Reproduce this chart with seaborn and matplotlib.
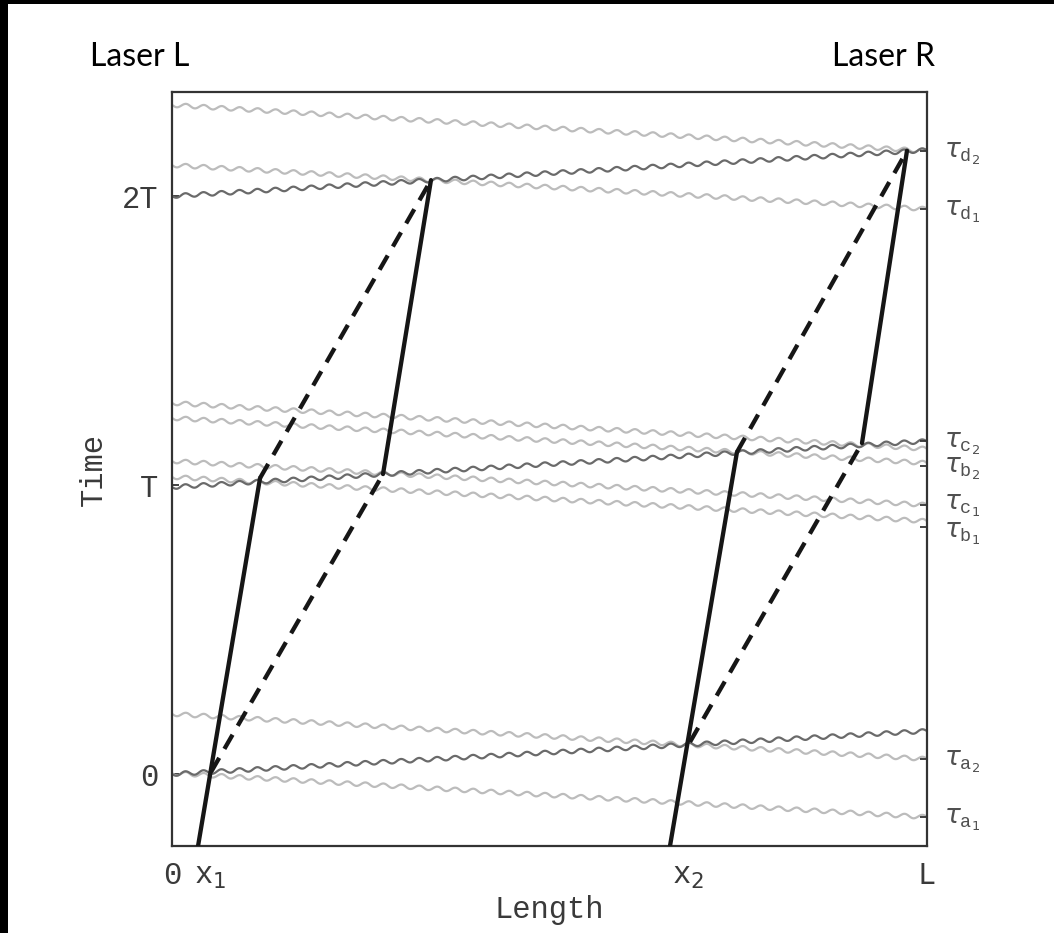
import matplotlib
matplotlib.use("Agg")
import matplotlib.pyplot as plt
from matplotlib.patches import Rectangle
import seaborn as sns

# pulsos del laser L: sale de x=0 en t_salida, llega a x=L en t_llegada
pulsoL_salida = [0.0, 0.993, 2.0]
pulsoL_llegada = [0.149, 1.152, 2.159]

# pulsos del laser R: sale de x=L en t_salida, llega a x=0 en t_llegada
pulsoR_salida = [-0.149, 0.052, 0.875, 0.931, 1.076, 1.125, 1.955, 2.156]
pulsoR_llegada = [0.003, 0.208, 1.028, 1.083, 1.232, 1.284, 2.107, 2.315]

# trayectorias (x, t): tramos solidos y punteados
solidaA_x, solidaA_t = [0.0345, 0.1166], [-0.249, 1.024]
punteadaA_x, punteadaA_t = [0.1166, 0.343], [1.024, 2.055]
punteadaB_x, punteadaB_t = [0.0517, 0.2795], [0.007, 1.038]
solidaB_x, solidaB_t = [0.2795, 0.343], [1.038, 2.055]
solidaC_x, solidaC_t = [0.6596, 0.7483], [-0.249, 1.114]
punteadaC_x, punteadaC_t = [0.7483, 0.9735], [1.114, 2.157]
punteadaD_x, punteadaD_t = [0.6861, 0.9139], [0.111, 1.145]
solidaD_x, solidaD_t = [0.9139, 0.9735], [1.145, 2.157]

ticks_x = [0.0, 0.051, 0.683, 1.0]
etiquetas_x = ['0', r'$\mathtt{x}_1$', r'$\mathtt{x}_2$', 'L']
ticks_t = [0.0, 1.0, 2.0]
etiquetas_t = ['0', 'T', '2T']
ticks_tau = [-0.149, 0.052, 0.855, 0.931, 1.066, 1.152, 1.955, 2.156]
etiquetas_tau = [r'$\tau_{\mathtt{a}_1}$', r'$\tau_{\mathtt{a}_2}$',
                 r'$\tau_{\mathtt{b}_1}$', r'$\tau_{\mathtt{c}_1}$',
                 r'$\tau_{\mathtt{b}_2}$', r'$\tau_{\mathtt{c}_2}$',
                 r'$\tau_{\mathtt{d}_1}$', r'$\tau_{\mathtt{d}_2}$']

sns.set_theme(style='white')
plt.rcParams['font.family'] = ['Liberation Mono', 'DejaVu Sans']
matplotlib.rcParams['mathtext.fontset'] = 'custom'
matplotlib.rcParams['mathtext.tt'] = 'Liberation Mono'
matplotlib.rcParams['mathtext.rm'] = 'DejaVu Sans'
matplotlib.rcParams['mathtext.it'] = 'DejaVu Sans:italic'

gris_texto = '#3a3a3a'
gris_claro = '#bcbcbc'
gris_oscuro = '#6a6a6a'

fig = plt.figure(figsize=(10.54, 9.33), dpi=100)
ax = fig.add_axes([172 / 1054, 1 - 846 / 933, 755 / 1054, 754 / 933])


def onda(x, t, color):
    sns.lineplot(x=x, y=t, color=color, lw=1.6, ax=ax, sort=False,
                 estimator=None, legend=False)
    linea = ax.lines[-1]
    linea.set_sketch_params(2.0, 18.0, 1.0)
    linea.set_solid_capstyle('butt')


for s, l in zip(pulsoR_salida, pulsoR_llegada):
    onda([1.0, 0.0], [s, l], gris_claro)
for s, l in zip(pulsoL_salida, pulsoL_llegada):
    onda([0.0, 1.0], [s, l], gris_oscuro)


def tramo(x, t, punteado=False):
    sns.lineplot(x=x, y=t, color='#161616', lw=3.1, ax=ax, sort=False,
                 estimator=None, legend=False)
    linea = ax.lines[-1]
    linea.set_zorder(5)
    if punteado:
        linea.set_dashes((3.8, 2.4))
        linea.set_dash_capstyle('butt')


tramo(solidaA_x, solidaA_t)
tramo(punteadaA_x, punteadaA_t, True)
tramo(punteadaB_x, punteadaB_t, True)
tramo(solidaB_x, solidaB_t)
tramo(solidaC_x, solidaC_t)
tramo(punteadaC_x, punteadaC_t, True)
tramo(punteadaD_x, punteadaD_t, True)
tramo(solidaD_x, solidaD_t)

ax.set_xlim(0, 1)
ax.set_ylim(-0.249, 2.36)
ax.set_xticks(ticks_x)
ax.set_xticklabels(etiquetas_x)
ax.set_yticks(ticks_t)
ax.set_yticklabels(etiquetas_t)
ax.tick_params(axis='both', direction='in', length=5, width=1.3,
               color='#333333', labelsize=22, labelcolor=gris_texto)
ax.tick_params(axis='x', pad=11)
ax.tick_params(axis='y', pad=10)
ax.set_xlabel('Length', fontsize=22, color=gris_texto, labelpad=3)
ax.set_ylabel('Time', fontsize=22, color=gris_texto, labelpad=9)

for spine in ax.spines.values():
    spine.set_color('#333333')
    spine.set_linewidth(1.6)

# marcas de tau a la derecha; las etiquetas van con el tau centrado en la marca
ax2 = ax.twinx()
ax2.set_ylim(ax.get_ylim())
ax2.set_yticks(ticks_tau)
ax2.tick_params(axis='y', direction='in', length=5, width=1.3,
                color='#333333', labelright=False)
for spine in ax2.spines.values():
    spine.set_visible(False)
# las etiquetas muy juntas se separan un poco
ajuste = {r'$\tau_{\mathtt{b}_1}$': -3.0, r'$\tau_{\mathtt{c}_1}$': 1.0}
for t, etiqueta in zip(ticks_tau, etiquetas_tau):
    dy = -4.5 + ajuste.get(etiqueta, 0.0)
    ax2.annotate(etiqueta, xy=(1.0, t), xycoords=ax2.get_yaxis_transform(),
                 xytext=(12, dy), textcoords='offset points',
                 fontsize=19, color='#505050', va='baseline', ha='left',
                 annotation_clip=False)

fig.text(90 / 1054, 1 - 66 / 933, 'Laser L', fontsize=23, family='Lato',
         color='black', va='baseline', ha='left')
fig.text(935 / 1054, 1 - 66 / 933, 'Laser R', fontsize=23, family='Lato',
         color='black', va='baseline', ha='right')

# borde negro de la captura original
fig.add_artist(Rectangle((0, 1 - 4 / 933), 1, 4 / 933,
                         transform=fig.transFigure, color='black', lw=0))
fig.add_artist(Rectangle((0, 0), 8 / 1054, 1,
                         transform=fig.transFigure, color='black', lw=0))

fig.savefig('out.png', dpi=100)
